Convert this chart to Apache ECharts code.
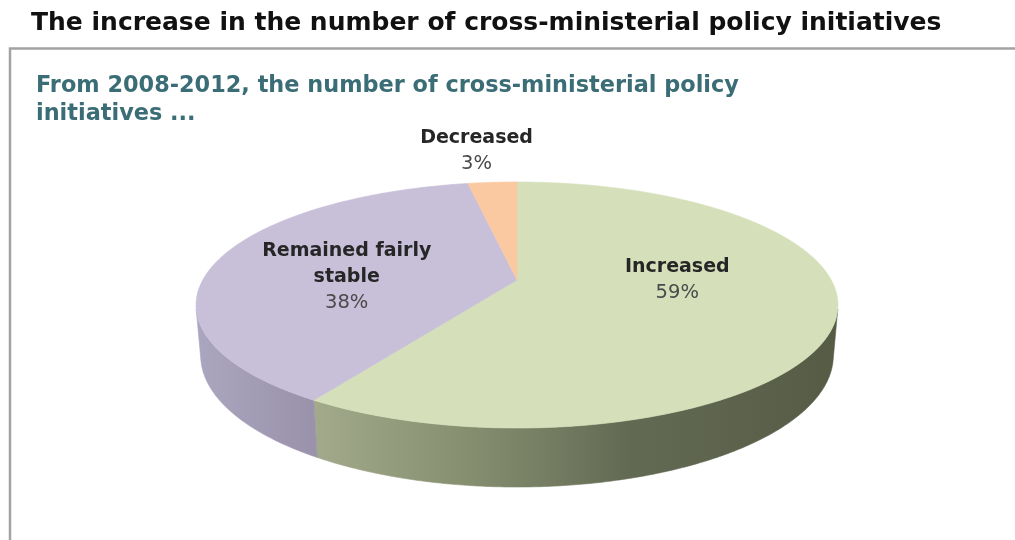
<!DOCTYPE html>
<html>
<head>
<meta charset="utf-8">
<title>Cross-ministerial policy initiatives</title>
<script src="https://cdn.jsdelivr.net/npm/echarts/dist/echarts.min.js"></script>
<style>
  html, body { margin: 0; padding: 0; background: #ffffff; }
  #chart { width: 1015px; height: 540px; }
</style>
</head>
<body>
<div id="chart"></div>
<script>
// Survey answers: share of respondents per outcome (percent)
const categories = ['Increased', 'Remained fairly\nstable', 'Decreased'];
const shares = [59, 38, 3];

// Appearance of each slice
const topColors = ['#d5e0ba', '#c8bfd9', '#fbc9a1'];
const wallStops = [
  [[0, '#a3aa8c'], [0.3, '#868e70'], [0.6, '#636a53'], [1, '#565b46']],
  [[0, '#aba6bf'], [1, '#9a91ab']],
  [[0, '#f0b88c'], [1, '#e0a679']]
];
// Label placement: radial position on the disc plus a small nudge (px)
const labelRadius = [0.5, 0.55, 1.3];
const labelNudge = [[5, -17], [-4, 9], [-10, -8]];

// Perspective camera for the tilted disc
const view = {
  cx: 517, cy: 280,   // screen position of the disc centre
  k: 1433,            // focal scale
  dist: 4.56,         // camera distance in disc radii
  tilt: 22.04 * Math.PI / 180,
  depth: 0.1714       // disc thickness in radii
};

function project(X, Y, Z) {
  const s = Math.sin(view.tilt), c = Math.cos(view.tilt);
  const vy = Y - view.dist * s;
  const vz = Z + view.dist * c;
  const d = -vy * s + vz * c;
  const up = vy * c + vz * s;
  return [view.cx + view.k * X / d, view.cy - view.k * up / d];
}

function rim(deg, y, r) {
  const t = deg * Math.PI / 180;
  const rr = r == null ? 1 : r;
  return project(rr * Math.sin(t), y, rr * Math.cos(t));
}

const total = shares.reduce((a, b) => a + b, 0);
const cumulative = [0];
shares.forEach((v, i) => cumulative.push(cumulative[i] + v));
function sliceAngles(i) {
  return [cumulative[i] / total * 360, cumulative[i + 1] / total * 360];
}

// Front-facing part of the cylinder wall
const facing = -1 / (view.dist * Math.cos(view.tilt));
const visFrom = Math.acos(facing) * 180 / Math.PI;
const visTo = 360 - visFrom;

function arcPoints(a0, a1, y) {
  const pts = [];
  const n = Math.max(2, Math.ceil((a1 - a0) / 0.5));
  for (let j = 0; j <= n; j++) pts.push(rim(a0 + (a1 - a0) * j / n, y));
  return pts;
}

function renderWall(params) {
  const i = params.dataIndex;
  const [a0, a1] = sliceAngles(i);
  const b0 = Math.max(a0, visFrom), b1 = Math.min(a1, visTo);
  if (b1 <= b0) return { type: 'group', children: [] };
  const topEdge = arcPoints(b0, b1, 0);
  const bottomEdge = arcPoints(b0, b1, -view.depth).reverse();
  const pts = topEdge.concat(bottomEdge);
  const xs = pts.map(p => p[0]);
  const minX = Math.min.apply(null, xs), maxX = Math.max.apply(null, xs);
  const grad = new echarts.graphic.LinearGradient(minX, 0, maxX, 0,
    wallStops[i].map(s => ({ offset: s[0], color: s[1] })), true);
  return {
    type: 'polygon',
    shape: { points: pts },
    style: { fill: grad, stroke: grad, lineWidth: 0.6 }
  };
}

function renderTop(params) {
  const i = params.dataIndex;
  const [a0, a1] = sliceAngles(i);
  const pts = [project(0, 0, 0)].concat(arcPoints(a0, a1, 0));
  return {
    type: 'polygon',
    shape: { points: pts },
    style: { fill: topColors[i], stroke: topColors[i], lineWidth: 0.6 }
  };
}

function renderLabel(params) {
  const i = params.dataIndex;
  const [a0, a1] = sliceAngles(i);
  const p = rim((a0 + a1) / 2, 0, labelRadius[i]);
  const nameLines = categories[i].split('\n').map(l => '{n|' + l + '}');
  const text = nameLines.concat(['{p|' + shares[i] + '%}']).join('\n');
  return {
    type: 'text',
    x: p[0] + labelNudge[i][0],
    y: p[1] + labelNudge[i][1],
    style: {
      text: text,
      align: 'center',
      verticalAlign: 'middle',
      rich: {
        n: { fontFamily: 'DejaVu Sans', fontWeight: 'bold', fontSize: 19, fill: '#262626', lineHeight: 26, align: 'center' },
        p: { fontFamily: 'DejaVu Sans', fontWeight: 'normal', fontSize: 19.5, fill: '#4a4a4a', lineHeight: 26, align: 'center' }
      }
    }
  };
}

const sliceData = shares.map((v, i) => ({ name: categories[i], value: v }));

const chart = echarts.init(document.getElementById('chart'), null, { renderer: 'canvas' });
chart.setOption({
  backgroundColor: '#ffffff',
  animation: false,
  title: [
    {
      text: 'The increase in the number of cross-ministerial policy initiatives',
      left: 26, top: 6,
      textStyle: { fontFamily: 'DejaVu Sans', fontWeight: 'bold', fontSize: 25, color: '#111111' }
    },
    {
      text: 'From 2008-2012, the number of cross-ministerial policy\ninitiatives ...',
      left: 31, top: 67,
      textStyle: { fontFamily: 'DejaVu Sans', fontWeight: 'bold', fontSize: 22.4, color: '#3a6d75', lineHeight: 28 }
    }
  ],
  graphic: [
    {
      type: 'rect', z: -1,
      shape: { x: 10, y: 48.5, width: 1030, height: 560 },
      style: { fill: 'none', stroke: '#a3a3a3', lineWidth: 2.5 }
    }
  ],
  series: [
    { type: 'custom', name: 'wall', coordinateSystem: 'none', z: 1, silent: true, data: sliceData, renderItem: renderWall },
    { type: 'custom', name: 'top', coordinateSystem: 'none', z: 2, silent: true, data: sliceData, renderItem: renderTop },
    { type: 'custom', name: 'labels', coordinateSystem: 'none', z: 3, silent: true, data: sliceData, renderItem: renderLabel }
  ]
});
</script>
</body>
</html>
